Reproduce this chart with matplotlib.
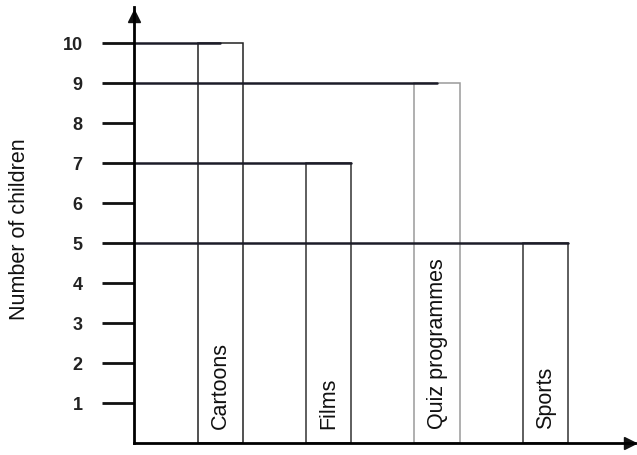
import matplotlib.pyplot as plt

plt.rcParams['font.family'] = ['Liberation Sans Narrow', 'Liberation Sans', 'DejaVu Sans']

# data
programmes = ['Cartoons', 'Films', 'Quiz programmes', 'Sports']
children = [10, 7, 9, 5]
y_ticks = [1, 2, 3, 4, 5, 6, 7, 8, 9, 10]

# how far the hand drawn line goes into each bar (0 = centre, 0.5 = right edge)
line_reach = [0.0, 0.5, 0.0, 0.5]

fig = plt.figure(figsize=(6.37, 4.55), dpi=100)
ax = fig.add_axes([134 / 637, 12 / 455, 501 / 637, 436 / 455])

x = list(range(len(programmes)))
width = 0.415

# open bars
edge_cols = ['#222222', '#333333', '#9a9a9a', '#333333']
ax.bar(x, children, width=width, fill=False, edgecolor=edge_cols, linewidth=1.1)

# hand drawn lines from the axis to the top of each bar
for xi, v, r in zip(x, children, line_reach):
    ax.plot([-0.793, xi + r * width], [v, v], color='#1c1c28', linewidth=1.8, solid_capstyle='round')

# labels inside the bars
for xi, name in zip(x, programmes):
    ax.text(xi, 0.35, name, rotation=90, ha='center', va='bottom', fontsize=15.5, color='#111111')

ax.set_xlim(-0.793, 3.825)
ax.set_ylim(0, 10.9)
ax.set_yticks(y_ticks)
ax.set_yticklabels([str(t) for t in y_ticks], fontsize=13, fontweight='bold',
                   family=['Liberation Sans', 'DejaVu Sans'], color='#222222')
ax.set_xticks([])
ax.tick_params(axis='y', direction='out', length=23, width=2, pad=14, color='#111111')

for s in ['top', 'right']:
    ax.spines[s].set_visible(False)
ax.spines['left'].set_linewidth(2)
ax.spines['bottom'].set_linewidth(2)

# arrow heads on the axes
ax.plot(0.99, 0, '>', color='#111111', markersize=9, transform=ax.transAxes, clip_on=False)
ax.plot(0, 0.98, '^', color='#111111', markersize=9, transform=ax.transAxes, clip_on=False)

fig.text(20 / 637, 1 - 229 / 455, 'Number of children', rotation=90, ha='center', va='center',
         fontsize=15.5, color='#111111')

plt.savefig('out.png', dpi=100)
